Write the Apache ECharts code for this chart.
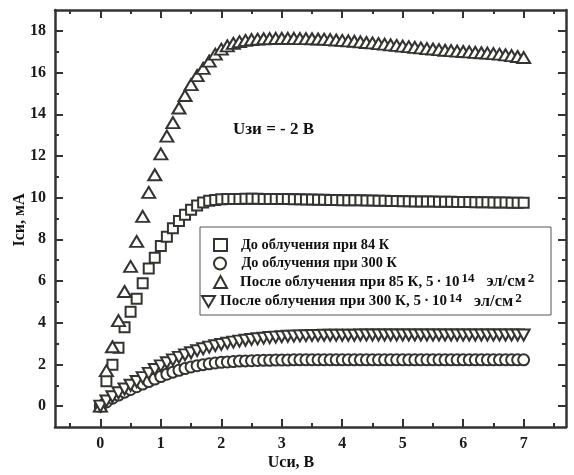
<!DOCTYPE html>
<html>
<head>
<meta charset="utf-8">
<script src="https://cdn.jsdelivr.net/npm/echarts@6/dist/echarts.min.js"></script>
<style>
  html, body { margin: 0; padding: 0; background: #fff; }
  #chart { width: 574px; height: 475px; }
</style>
</head>
<body>
<div id="chart"></div>
<script>
// Drain voltage Uси, В (shared sampling for all curves)
const drainVoltage = [
  0, 0.1, 0.2, 0.3, 0.4, 0.5, 0.6, 0.7, 0.8, 0.9,
  1.0, 1.1, 1.2, 1.3, 1.4, 1.5, 1.6, 1.7, 1.8, 1.9,
  2.0, 2.1, 2.2, 2.3, 2.4, 2.5, 2.6, 2.7, 2.8, 2.9,
  3.0, 3.1, 3.2, 3.3, 3.4, 3.5, 3.6, 3.7, 3.8, 3.9,
  4.0, 4.1, 4.2, 4.3, 4.4, 4.5, 4.6, 4.7, 4.8, 4.9,
  5.0, 5.1, 5.2, 5.3, 5.4, 5.5, 5.6, 5.7, 5.8, 5.9,
  6.0, 6.1, 6.2, 6.3, 6.4, 6.5, 6.6, 6.7, 6.8, 6.9,
  7.0
];

// Drain current Iси, мА — before irradiation, 84 K
const currentBefore84K = [
  0, 1.2, 1.98, 2.8, 3.78, 4.53, 5.15, 5.9, 6.6, 7.12,
  7.68, 8.12, 8.53, 8.88, 9.18, 9.42, 9.62, 9.77, 9.85, 9.89,
  9.92, 9.93, 9.94, 9.94, 9.95, 9.95, 9.95, 9.94, 9.94, 9.94,
  9.93, 9.93, 9.92, 9.92, 9.91, 9.91, 9.9, 9.9, 9.89, 9.89,
  9.88, 9.88, 9.87, 9.87, 9.86, 9.86, 9.85, 9.85, 9.84, 9.84,
  9.83, 9.83, 9.82, 9.82, 9.81, 9.81, 9.8, 9.8, 9.8, 9.79,
  9.79, 9.79, 9.78, 9.78, 9.78, 9.77, 9.77, 9.77, 9.76, 9.76,
  9.76
];

// before irradiation, 300 K
const currentBefore300K = [
  0, 0.2, 0.38, 0.53, 0.67, 0.8, 0.93, 1.06, 1.18, 1.3,
  1.42, 1.53, 1.63, 1.72, 1.8, 1.88, 1.94, 1.99, 2.03, 2.07,
  2.1, 2.12, 2.14, 2.16, 2.17, 2.18, 2.19, 2.2, 2.2, 2.21,
  2.21, 2.21, 2.22, 2.22, 2.22, 2.22, 2.22, 2.22, 2.22, 2.22,
  2.22, 2.22, 2.22, 2.22, 2.22, 2.22, 2.22, 2.22, 2.22, 2.22,
  2.22, 2.22, 2.22, 2.22, 2.22, 2.22, 2.22, 2.22, 2.22, 2.22,
  2.22, 2.22, 2.22, 2.22, 2.22, 2.22, 2.22, 2.22, 2.22, 2.22,
  2.22
];

// after irradiation at 85 K, 5·10^14 эл/см^2
const currentAfter85K = [
  0, 1.7, 2.85, 4.1, 5.5, 6.7, 7.9, 9.1, 10.25, 11.1,
  12.1, 12.95, 13.6, 14.3, 14.9, 15.42, 15.85, 16.2, 16.55, 16.88,
  17.12, 17.28, 17.4, 17.48, 17.54, 17.58, 17.6, 17.62, 17.63, 17.64,
  17.64, 17.64, 17.64, 17.63, 17.63, 17.62, 17.61, 17.6, 17.58, 17.56,
  17.54, 17.52, 17.5, 17.47, 17.44, 17.42, 17.39, 17.36, 17.33, 17.3,
  17.27, 17.24, 17.21, 17.18, 17.15, 17.13, 17.1, 17.07, 17.05, 17.03,
  17.01, 16.99, 16.97, 16.95, 16.93, 16.91, 16.88, 16.85, 16.81, 16.77,
  16.72
];

// after irradiation at 300 K, 5·10^14 эл/см^2
const currentAfter300K = [
  0, 0.25, 0.45, 0.64, 0.82, 1.0, 1.18, 1.37, 1.57, 1.76,
  1.93, 2.08, 2.22, 2.34, 2.46, 2.56, 2.66, 2.75, 2.83, 2.9,
  2.96, 3.02, 3.07, 3.12, 3.16, 3.2, 3.23, 3.26, 3.29, 3.31,
  3.33, 3.35, 3.36, 3.37, 3.38, 3.39, 3.39, 3.4, 3.4, 3.4,
  3.4, 3.4, 3.4, 3.41, 3.41, 3.41, 3.41, 3.41, 3.41, 3.41,
  3.41, 3.41, 3.41, 3.41, 3.41, 3.41, 3.41, 3.41, 3.41, 3.41,
  3.41, 3.41, 3.41, 3.41, 3.41, 3.41, 3.41, 3.41, 3.41, 3.41,
  3.41
];

const seriesNames = [
  'До облучения при 84 К',
  'До облучения при 300 К',
  'После облучения при 85 К, 5·10^14 эл/см^2',
  'После облучения при 300 К, 5·10^14 эл/см^2'
];
// legend captions with raised exponents
const legendLabels = [
  '{t|До облучения при 84 К}',
  '{t|До облучения при 300 К}',
  '{w|После облучения при 85 К, 5\u2009·\u200910}{s|14}{u|эл/см}{s|2}',
  '{w|После облучения при 300 К, 5\u2009·\u200910}{s|14}{u|эл/см}{s|2}'
];

const xMajorTicks = [0, 1, 2, 3, 4, 5, 6, 7];
const xMinorTicks = [-0.5, 0.5, 1.5, 2.5, 3.5, 4.5, 5.5, 6.5, 7.5];
const yMajorTicks = [0, 2, 4, 6, 8, 10, 12, 14, 16, 18];
const yMinorTicks = [1, 3, 5, 7, 9, 11, 13, 15, 17];

const FONT = 'Liberation Serif';
const INK = '#333333';
const MARK_FILL = '#fffef9';

function pairs(ys) {
  return drainVoltage.map((x, i) => [x, ys[i]]);
}

function xAxisDef(position, ticks, len, withLine, withLabels) {
  return {
    type: 'value', min: -0.75, max: 7.7, position: position,
    axisLine: { show: withLine, onZero: false, lineStyle: { color: INK, width: 2.5 } },
    axisTick: { show: true, inside: true, length: len, customValues: ticks,
                lineStyle: { color: INK, width: 2 } },
    axisLabel: withLabels ? { show: true, customValues: ticks, margin: 9,
                fontFamily: FONT, fontWeight: 'bold', fontSize: 16, color: '#1a1a1a' }
              : { show: false },
    splitLine: { show: false }
  };
}
function yAxisDef(position, ticks, len, withLine, withLabels) {
  return {
    type: 'value', min: -1, max: 19, position: position,
    axisLine: { show: withLine, onZero: false, lineStyle: { color: INK, width: 2.5 } },
    axisTick: { show: true, inside: true, length: len, customValues: ticks,
                lineStyle: { color: INK, width: 2 } },
    axisLabel: withLabels ? { show: true, customValues: ticks, margin: 9,
                fontFamily: FONT, fontWeight: 'bold', fontSize: 16, color: '#1a1a1a' }
              : { show: false },
    splitLine: { show: false }
  };
}

function markerSeries(name, ys, symbol, size, rotate) {
  return {
    name: name, type: 'scatter', xAxisIndex: 0, yAxisIndex: 0,
    data: pairs(ys), symbol: symbol, symbolSize: size, symbolRotate: rotate || 0,
    itemStyle: { color: MARK_FILL, borderColor: INK, borderWidth: 2, opacity: 1 },
    emphasis: { disabled: true },
    animation: false
  };
}

const legendRich = {
  t: { fontFamily: FONT, fontWeight: 'bold', fontSize: 14.3, color: '#111', lineHeight: 19 },
  w: { fontFamily: FONT, fontWeight: 'bold', fontSize: 15, color: '#111', lineHeight: 19 },
  u: { fontFamily: FONT, fontWeight: 'bold', fontSize: 16.5, color: '#111', lineHeight: 19,
       padding: [0, 0, 0, 12] },
  s: { fontFamily: FONT, fontWeight: 'bold', fontSize: 13, color: '#111', lineHeight: 6,
       verticalAlign: 'top', padding: [0, 0, 13, 2] }
};
// one legend block per row so every caption sits at its own place in the framed box
function legendRow(item, left, top, textGap, label) {
  return {
    orient: 'vertical', left: left, top: top, padding: 0,
    itemWidth: 13, itemHeight: 12, itemGap: 0,
    selectedMode: false,
    data: [item],
    formatter: () => label,
    textStyle: {
      fontFamily: FONT, fontWeight: 'bold', fontSize: 14.5, color: '#111',
      lineHeight: 19, height: 19,
      padding: [0, 0, 0, textGap],
      rich: legendRich
    }
  };
}

const chart = echarts.init(document.getElementById('chart'), null, { renderer: 'canvas' });
chart.setOption({
  animation: false,
  backgroundColor: '#ffffff',
  grid: { left: 55, right: 8, top: 10, bottom: 48, containLabel: false, outerBoundsMode: 'none' },
  xAxis: [
    xAxisDef('bottom', xMajorTicks, 8, true, true),
    xAxisDef('bottom', xMinorTicks, 4, false, false),
    xAxisDef('top', xMajorTicks, 8, true, false),
    xAxisDef('top', xMinorTicks, 4, false, false)
  ],
  yAxis: [
    yAxisDef('left', yMajorTicks, 8, true, true),
    yAxisDef('left', yMinorTicks, 4, false, false),
    yAxisDef('right', yMajorTicks, 8, true, false),
    yAxisDef('right', yMinorTicks, 4, false, false)
  ],
  legend: [
    legendRow(seriesNames[0], 213, 235.5, 9, legendLabels[0]),
    legendRow(seriesNames[1], 213, 254, 10, legendLabels[1]),
    legendRow(seriesNames[2], 213, 272.5, 8, legendLabels[2]),
    legendRow({ name: seriesNames[3], icon: 'path://M0,0L14,0L7,12Z' }, 201, 292, 0, legendLabels[3])
  ],
  graphic: [
    { type: 'rect', z: 1, shape: { x: 200, y: 227, width: 351, height: 88 },
      style: { fill: '#ffffff', stroke: '#555', lineWidth: 1 } },
    { type: 'text', x: 233, y: 130,
      style: { text: 'Uзи = - 2 В', font: 'bold 17px "Liberation Serif"', fill: '#111',
               align: 'left', verticalAlign: 'middle' } },
    { type: 'text', x: 291, y: 463,
      style: { text: 'Uси, В', font: 'bold 16px "Liberation Serif"', fill: '#111',
               align: 'center', verticalAlign: 'middle' } },
    { type: 'text', x: 20, y: 220, rotation: Math.PI / 2,
      style: { text: 'Iси, мА', font: 'bold 16px "Liberation Serif"', fill: '#111',
               align: 'center', verticalAlign: 'middle' } }
  ],
  series: [
    markerSeries(seriesNames[0], currentBefore84K, 'rect', 10),
    markerSeries(seriesNames[1], currentBefore300K, 'circle', 11),
    markerSeries(seriesNames[2], currentAfter85K, 'triangle', [13, 11]),
    markerSeries(seriesNames[3], currentAfter300K, 'triangle', [12, 11], 180)
  ]
});
</script>
</body>
</html>
